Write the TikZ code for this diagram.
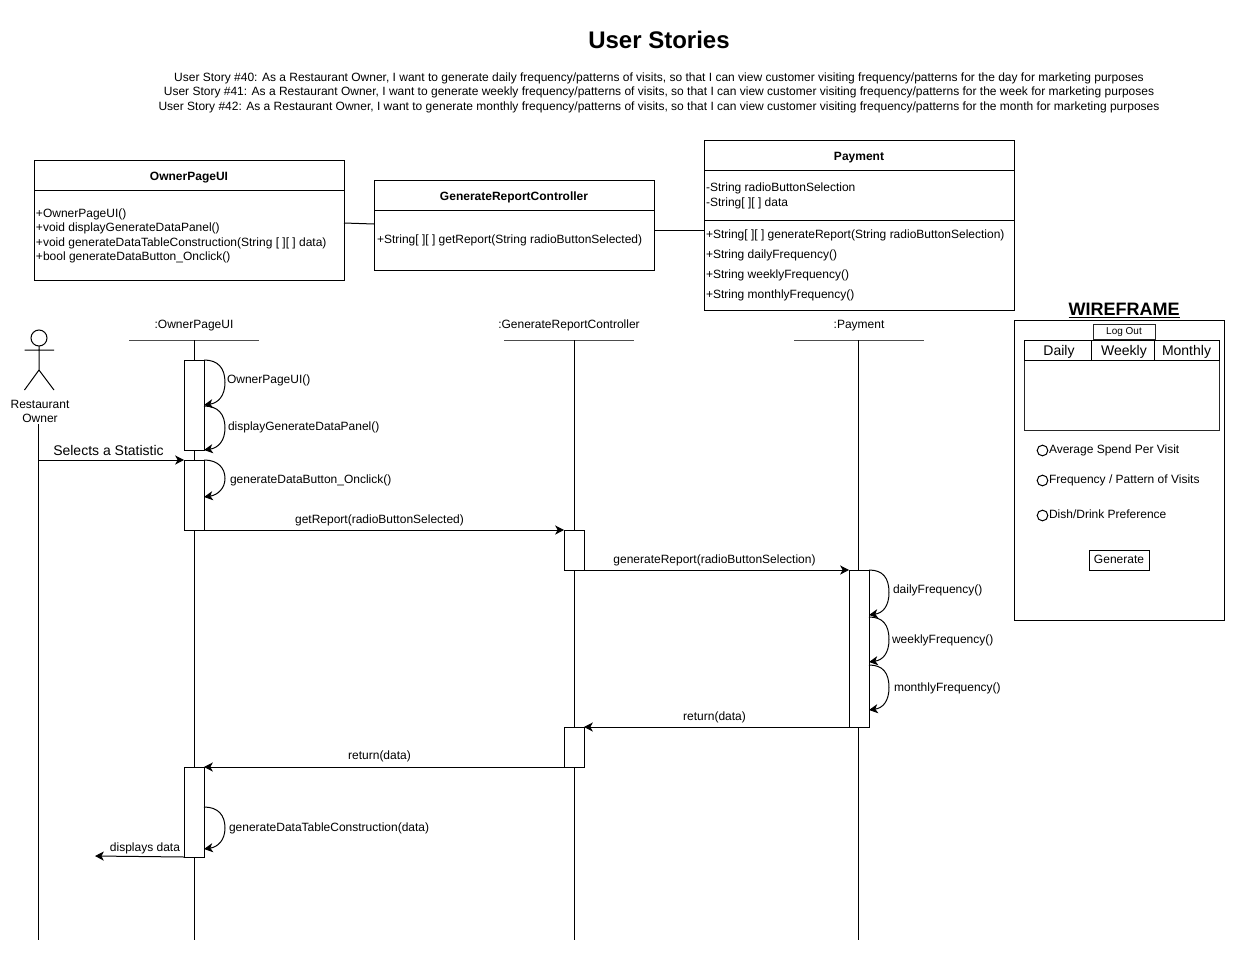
\documentclass[tikz,border=0pt]{standalone}
\usepackage{fontspec}
\setmainfont{Liberation Sans}
\usetikzlibrary{arrows.meta,calc,fit}
\newcommand{\fs}[1]{\fontsize{#1}{#1}\selectfont}
\tikzset{
  every node/.style={inner sep=0pt,outer sep=0pt},
  base/.style={line width=0.75pt,draw=black},
  txt/.style={font=\fs{9},text height=8.5pt,text depth=2pt},
  ltxt/.style={txt,anchor=west},
  btxt/.style={font=\fs{9}\bfseries,text height=9.6pt,text depth=2pt},
  bigtxt/.style={font=\fs{10.5},text height=10.5pt,text depth=2pt},
  boxn/.style={base,fill=white,rectangle},
  act/.style={boxn},
  msg/.style={base,-{Stealth[length=6.6pt,width=6.8pt,inset=1.8pt]}},
  link/.style={base},
  head/.style={line width=0.75pt,draw=black!70},
}
\newcommand{\selfcall}[4]{% node, start y, end y, bulge
  \pgfmathsetmacro{\ya}{#2}\pgfmathsetmacro{\yb}{#3}\pgfmathsetmacro{\ym}{(#2+#3)/2}
  \draw[msg] ($(#1.north east)+(0,\ya)$)
    .. controls ($(#1.north east)+(14,\ya)$) and ($(#1.north east)+(#4,\ya+8)$) .. ($(#1.north east)+(#4,\ym)$)
    .. controls ($(#1.north east)+(#4,\yb-9)$) and ($(#1.north east)+(14,\yb-2)$) .. ($(#1.north east)+(0,\yb)$);
}
\begin{document}
\begin{tikzpicture}[x=0.75pt,y=-0.75pt]
\path[fill=white,use as bounding box] (0,0) rectangle (1235,953);

% Title
\node[font=\fs{18}\bfseries] (title) at (659,40) {User Stories};
\node[txt] (s40) at (659,77) {User Story \#40: As a Restaurant Owner, I want to generate daily frequency/patterns of visits, so that I can view customer visiting frequency/patterns for the day for marketing purposes};
\node[txt] (s41) at (659,91.5) {User Story \#41: As a Restaurant Owner, I want to generate weekly frequency/patterns of visits, so that I can view customer visiting frequency/patterns for the week for marketing purposes};
\node[txt] (s42) at (659,106) {User Story \#42: As a Restaurant Owner, I want to generate monthly frequency/patterns of visits, so that I can view customer visiting frequency/patterns for the month for marketing purposes};

% Classes
\node[boxn,fit={(34,160)(344,190)}] (ownT) {};
\node[boxn,fit={(34,190)(344,280)}] (ownB) {};
\node[btxt] (ownN) at (189,175) {OwnerPageUI};
\node[ltxt] (own1) at (36,213) {+OwnerPageUI()};
\node[ltxt] (own2) at (36,227) {+void displayGenerateDataPanel()};
\node[ltxt] (own3) at (36,242) {+void generateDataTableConstruction(String [ ][ ] data)};
\node[ltxt] (own4) at (36,256) {+bool generateDataButton\_Onclick()};

\node[boxn,fit={(374,180)(654,210)}] (genT) {};
\node[boxn,fit={(374,210)(654,270)}] (genB) {};
\node[btxt] (genN) at (514,195) {GenerateReportController};
\node[ltxt] (gen1) at (377,239) {+String[ ][ ] getReport(String radioButtonSelected)};

\node[boxn,fit={(704,140)(1014,170)}] (payT) {};
\node[boxn,fit={(704,170)(1014,220)}] (payA) {};
\node[boxn,fit={(704,220)(1014,310)}] (payM) {};
\node[btxt] (payN) at (859,155) {Payment};
\node[ltxt] (pay1) at (706,187) {-String radioButtonSelection};
\node[ltxt] (pay2) at (706,202) {-String[ ][ ] data};
\node[ltxt] (pay3) at (706,234) {+String[ ][ ] generateReport(String radioButtonSelection)};
\node[ltxt] (pay4) at (706,254) {+String dailyFrequency()};
\node[ltxt] (pay5) at (706,274) {+String weeklyFrequency()};
\node[ltxt] (pay6) at (706,294) {+String monthlyFrequency()};

\draw[link] ($(ownB.north east)+(0,33)$) -- ($(genB.north west)+(0,14)$);
\draw[link] ($(genB.north east)+(0,20)$) -- ($(payM.north west)+(0,10)$);

% Lifelines
\node[txt] (lOwn) at (194,324) {:OwnerPageUI};
\node[txt] (lGen) at (569,324) {:GenerateReportController};
\node[txt] (lPay) at (859,324) {:Payment};
\coordinate (hOwnL) at (129,340); \coordinate (hOwnR) at (259,340); \coordinate (hOwn) at (194,340); \coordinate (eOwn) at (194,940);
\coordinate (hGenL) at (504,340); \coordinate (hGenR) at (634,340); \coordinate (hGen) at (574,340); \coordinate (eGen) at (574,940);
\coordinate (hPayL) at (794,340); \coordinate (hPayR) at (924,340); \coordinate (hPay) at (858.5,340); \coordinate (ePay) at (858.5,940);
\draw[head] (hOwnL) -- (hOwnR);
\draw[head] (hGenL) -- (hGenR);
\draw[head] (hPayL) -- (hPayR);
\draw[link] (hOwn) -- (eOwn);
\draw[link] (hGen) -- (eGen);
\draw[link] (hPay) -- (ePay);

% Actor
\node[base,circle,fill=white,minimum size=12pt] (actH) at (39,338) {};
\coordinate (actH2) at (39,370);
\coordinate (actAL) at (24.5,350); \coordinate (actAR) at (54,350);
\coordinate (actLL) at (24.5,390); \coordinate (actLR) at (54,390);
\draw[link] (actH) -- (actH2) (actAL) -- (actAR) (actLL) -- (actH2) -- (actLR);
\node[txt] (actT1) at (40,404) {Restaurant};
\node[txt] (actT2) at (40,418) {Owner};
\coordinate (sLife) at (38.5,424);
\coordinate (eAct) at (38.5,940);
\draw[link] (sLife) -- (eAct);

% Activations
\node[act,fit={(184,360)(204,450)}] (a1) {};
\node[act,fit={(184,460)(204,530)}] (a2) {};
\node[act,fit={(184,767)(204,857)}] (a3) {};
\node[act,fit={(564,530)(584,570)}] (b1) {};
\node[act,fit={(564,727)(584,767)}] (b2) {};
\node[act,fit={(849,570)(869,727)}] (c1) {};

% Messages
\coordinate (sAct) at (38.5,460);
\draw[msg] (sAct) -- (a2.north west);
\node[bigtxt] (mSel) at (108.5,450) {Selects a Statistic};
\draw[msg] (a2.south east) -- (b1.north west);
\node[txt] (mGet) at (379.5,519.5) {getReport(radioButtonSelected)};
\draw[msg] (b1.south east) -- (c1.north west);
\node[txt] (mGen) at (714.5,559.5) {generateReport(radioButtonSelection)};
\draw[msg] (c1.south west) -- (b2.north east);
\node[txt] (mRet1) at (714.5,716.5) {return(data)};
\draw[msg] (b2.south west) -- (a3.north east);
\node[txt] (mRet2) at (379.5,755.5) {return(data)};
\coordinate (eDisp) at (95,856);
\draw[msg] (a3.south west) -- (eDisp);
\node[txt] (mDisp) at (145,847) {displays data};

% Self calls
\selfcall{a1}{0}{45}{21}
\node[ltxt] (sc1) at (227,379.5) {OwnerPageUI()};
\selfcall{a1}{46}{90}{21}
\node[ltxt] (sc2) at (228,426.5) {displayGenerateDataPanel()};
\selfcall{a2}{0}{37}{21}
\node[ltxt] (sc3) at (230,479.5) {generateDataButton\_Onclick()};
\selfcall{c1}{0}{45}{20}
\node[ltxt] (sc4) at (893,589.5) {dailyFrequency()};
\selfcall{c1}{47}{92}{20}
\node[ltxt] (sc5) at (892,639.5) {weeklyFrequency()};
\selfcall{c1}{95}{140}{20}
\node[ltxt] (sc6) at (894,687.5) {monthlyFrequency()};
\selfcall{a3}{40}{82}{21}
\node[ltxt] (sc7) at (229,827.5) {generateDataTableConstruction(data)};

% Wireframe
\node[font=\fs{13.5}\bfseries] (wfT) at (1124,311) {\underline{WIREFRAME}};
\node[boxn,fit={(1014,320)(1224,620)}] (wf) {};
\node[boxn,fit={(1093,324)(1155,339)},draw=black!85] (logB) {};
\node[font=\fs{7.5},text height=5.5pt,text depth=1.5pt] (logT) at (1124,331.5) {Log Out};
\node[boxn,fit={(1024,340)(1219,430)},draw=black!85] (tbl) {};
\node[boxn,fit={(1024,340)(1091.5,360)}] (tD) {};
\node[boxn,fit={(1091.5,340)(1154.5,360)}] (tW) {};
\node[boxn,fit={(1154.5,340)(1219,360)}] (tM) {};
\node[bigtxt] (tDt) at (1059,350) {Daily};
\node[bigtxt] (tWt) at (1124,350) {Weekly};
\node[bigtxt] (tMt) at (1186.5,350) {Monthly};
\node[base,circle,minimum size=8pt] (r1) at (1042.5,450.5) {};
\node[base,circle,minimum size=8pt] (r2) at (1042.5,480.5) {};
\node[base,circle,minimum size=8pt] (r3) at (1042.5,515.5) {};
\node[ltxt] (r1t) at (1049,449.5) {Average Spend Per Visit};
\node[ltxt] (r2t) at (1049,479.5) {Frequency / Pattern of Visits};
\node[ltxt] (r3t) at (1049,514.5) {Dish/Drink Preference};
\node[boxn,fit={(1089,550)(1149,570)}] (gB) {};
\node[txt] (gT) at (1119,559.5) {Generate};
\end{tikzpicture}
\end{document}
